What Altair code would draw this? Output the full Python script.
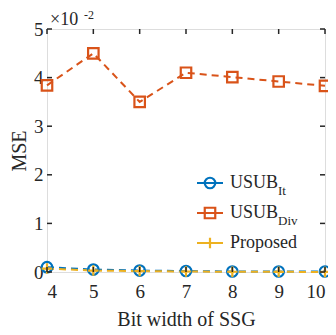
import altair as alt
import pandas as pd

bits = [4, 5, 6, 7, 8, 9, 10]
usub_it = [0.10, 0.05, 0.03, 0.02, 0.01, 0.01, 0.01]
usub_div = [3.84, 4.50, 3.50, 4.10, 4.01, 3.92, 3.83]
proposed = [0.07, 0.03, 0.02, 0.01, 0.005, 0.003, 0.002]
series = ["USUB_It", "USUB_Div", "Proposed"]
colors = ["#0072BD", "#D95319", "#EDB120"]
xticks = [4, 5, 6, 7, 8, 9, 10]
yticks = [0, 1, 2, 3, 4, 5]

W, H = 278, 243
FONT = "Liberation Serif"

rows = []
for s, vals in zip(series, [usub_it, usub_div, proposed]):
    for b, v in zip(bits, vals):
        rows.append({"bit": b, "mse": v, "series": s})
df = pd.DataFrame(rows)

xs = alt.Scale(domain=[4, 10], nice=False)
ys = alt.Scale(domain=[0, 5], nice=False)
cs = alt.Scale(domain=series, range=colors)
PLUS = "M-1,0L1,0M0,-1L0,1"
shapes = alt.Scale(domain=series, range=["circle", "square", PLUS])

base = alt.Chart(df)
lines = base.mark_line(strokeWidth=2, strokeDash=[7, 5]).encode(
    x=alt.X("bit:Q", scale=xs,
            axis=alt.Axis(values=xticks, title="Bit width of SSG", tickSize=0,
                          labelFont=FONT, labelFontSize=19, labelColor="#262626",
                          titleFont=FONT, titleFontSize=20, titleFontWeight="normal",
                          titleColor="#262626", labelPadding=10, titlePadding=8,
                          domain=False, grid=False)),
    y=alt.Y("mse:Q", scale=ys,
            axis=alt.Axis(values=yticks, title="MSE", tickSize=0,
                          labelFont=FONT, labelFontSize=19, labelColor="#262626",
                          titleFont=FONT, titleFontSize=20, titleFontWeight="normal",
                          titleColor="#262626", labelPadding=4, titlePadding=4,
                          domain=False, grid=False)),
    color=alt.Color("series:N", scale=cs, legend=None),
    detail="series:N",
)
points = base.mark_point(filled=False, strokeWidth=2.2, opacity=1).encode(
    x=alt.X("bit:Q", scale=xs),
    y=alt.Y("mse:Q", scale=ys),
    color=alt.Color("series:N", scale=cs, legend=None),
    shape=alt.Shape("series:N", scale=shapes, legend=None),
    size=alt.value(110),
)

# inward ticks
xt = pd.DataFrame({"v": xticks})
yt = pd.DataFrame({"v": yticks})
tick_bot = alt.Chart(xt).mark_rule(color="#262626", strokeWidth=1.5).encode(
    x=alt.X("v:Q", scale=xs), y=alt.value(H - 5), y2=alt.value(H))
tick_top = alt.Chart(xt).mark_rule(color="#262626", strokeWidth=1.5).encode(
    x=alt.X("v:Q", scale=xs), y=alt.value(0), y2=alt.value(5))
tick_left = alt.Chart(yt).mark_rule(color="#262626", strokeWidth=1.5).encode(
    y=alt.Y("v:Q", scale=ys), x=alt.value(0), x2=alt.value(5))
tick_right = alt.Chart(yt).mark_rule(color="#262626", strokeWidth=1.5).encode(
    y=alt.Y("v:Q", scale=ys), x=alt.value(W - 5), x2=alt.value(W))

# exponent label
expo = alt.Chart(pd.DataFrame({"t": ["×10"]})).mark_text(
    font=FONT, fontSize=18, color="#262626", align="left", baseline="alphabetic").encode(
    text="t:N", x=alt.value(3), y=alt.value(-4))
expo2 = alt.Chart(pd.DataFrame({"t": ["-2"]})).mark_text(
    font=FONT, fontSize=12, color="#262626", align="left", baseline="alphabetic").encode(
    text="t:N", x=alt.value(37), y=alt.value(-10))

# custom legend
leg_names = ["USUB", "USUB", "Proposed"]
leg_subs = ["It", "Div", ""]
leg_y = [154, 184, 214]
leg = pd.DataFrame({"series": series, "name": leg_names, "sub": leg_subs, "ly": leg_y})
lb = alt.Chart(leg)
leg_line = lb.mark_rule(strokeWidth=2).encode(
    x=alt.value(150), x2=alt.value(176), y=alt.Y("ly:Q", scale=None),
    color=alt.Color("series:N", scale=cs, legend=None))
leg_pt = lb.mark_point(filled=False, strokeWidth=2.2, opacity=1, size=110).encode(
    x=alt.value(163), y=alt.Y("ly:Q", scale=None),
    color=alt.Color("series:N", scale=cs, legend=None),
    shape=alt.Shape("series:N", scale=shapes, legend=None))
leg_txt = lb.mark_text(font=FONT, fontSize=18, color="#262626", align="left",
                       baseline="middle").encode(
    x=alt.value(183), y=alt.Y("ly:Q", scale=None), text="name:N")
leg_sub = lb.mark_text(font=FONT, fontSize=13, color="#262626", align="left",
                       baseline="middle", dy=8).encode(
    x=alt.value(231), y=alt.Y("ly:Q", scale=None), text="sub:N")

chart = alt.layer(
    lines, points, tick_bot, tick_top, tick_left, tick_right, expo, expo2,
    leg_line, leg_pt, leg_txt, leg_sub
).properties(
    width=W, height=H,
    autosize=alt.AutoSizeParams(type="none"),
    padding={"left": 39, "top": 21, "right": 3, "bottom": 63},
).configure_view(stroke="#262626", strokeWidth=2).configure(background="white")

chart.save("out.html", embed_options={"renderer": "svg", "actions": False})
